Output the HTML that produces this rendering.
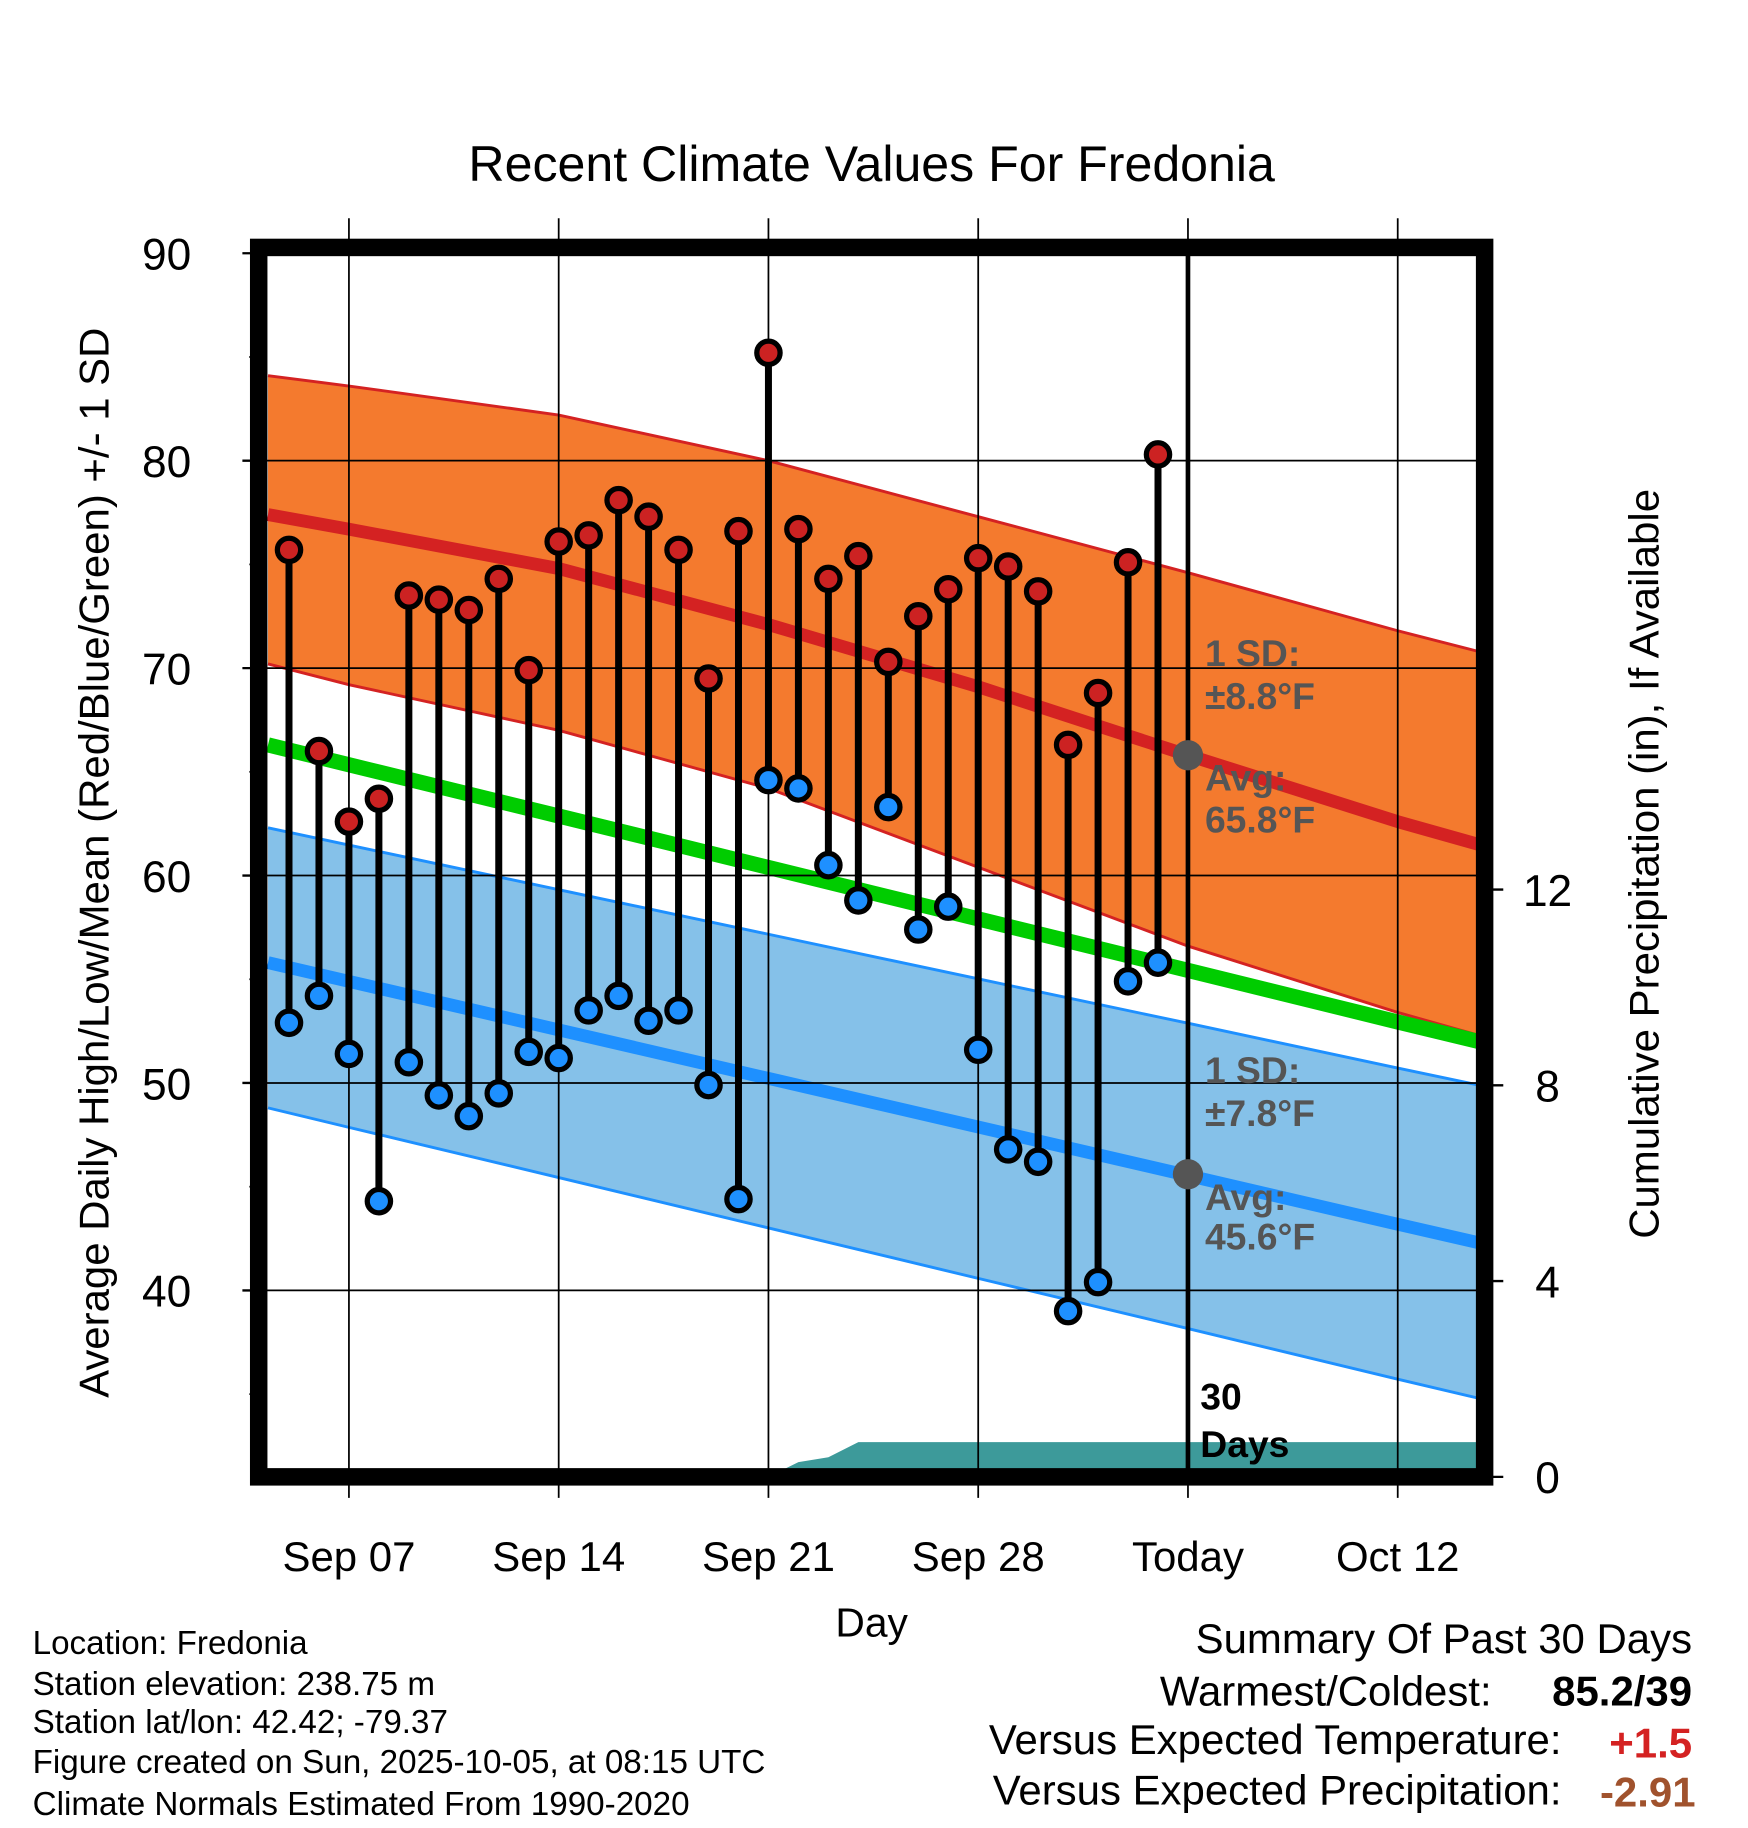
<!DOCTYPE html>
<html><head><meta charset="utf-8"><style>
html,body{margin:0;padding:0;background:#fff}
svg{display:block}
text{font-family:"Liberation Sans",Arial,sans-serif}
</style></head><body>
<svg id="chart" width="1748" height="1828" viewBox="0 0 1500 1568" xmlns="http://www.w3.org/2000/svg">
<text x="748" y="155" font-size="43" text-anchor="middle">Recent Climate Values For Fredonia</text>
<g id="plot"></g>
</svg>
<script>
// ---- data ----
const days = ["Sep 05","Sep 06","Sep 07","Sep 08","Sep 09","Sep 10","Sep 11","Sep 12","Sep 13","Sep 14","Sep 15","Sep 16","Sep 17","Sep 18","Sep 19","Sep 20","Sep 21","Sep 22","Sep 23","Sep 24","Sep 25","Sep 26","Sep 27","Sep 28","Sep 29","Sep 30","Oct 01","Oct 02","Oct 03","Oct 04"];
const highs = [75.7,66.0,62.6,63.7,73.5,73.3,72.8,74.3,69.9,76.1,76.4,78.1,77.3,75.7,69.5,76.6,85.2,76.7,74.3,75.4,70.3,72.5,73.8,75.3,74.9,73.7,66.3,68.8,75.1,80.3];
const lows = [52.9,54.2,51.4,44.3,51.0,49.4,48.4,49.5,51.5,51.2,53.5,54.2,53.0,53.5,49.9,44.4,64.6,64.2,60.5,58.8,63.3,57.4,58.5,51.6,46.8,46.2,39.0,40.4,54.9,55.8];
// normals at day offsets relative to Sep 05 (day 0)
const normDays = [-0.7,2,9,16,23,30,37,39.7];
const normHigh = [77.4,76.7,74.8,72.1,69.1,65.8,62.6,61.5];
const normHighUp = [84.1,83.6,82.2,80.0,77.3,74.6,71.8,70.8];
const normHighLo = [70.2,69.2,67.0,64.2,60.4,56.6,53.4,52.3];
const normMean = [66.3,65.34,62.87,60.39,57.91,55.43,52.94,52.0];
const normLow = [55.8,54.90,52.56,50.22,47.88,45.54,43.19,42.3];
const normLowUp = [62.3,61.47,59.32,57.17,55.02,52.88,50.72,49.9];
const normLowLo = [48.8,47.86,45.44,43.01,40.58,38.16,35.72,34.8];
const precipDays = [-0.7,16,17,18,19,39.7];
const precip = [0,0,0.3,0.4,0.71,0.71];
const yTicks = [40,50,60,70,80,90];
const y2Ticks = [0,4,8,12];
const xTickLabels = ["Sep 07","Sep 14","Sep 21","Sep 28","Today","Oct 12"];
const xTickDays = [2,9,16,23,30,37];

// ---- axes ----
const X0=248, DX=25.714;
const xs = d => X0 + d*DX;
const ys = v => 217 + (90-v)*17.8;
const ys2 = p => 1267 - p*42;
const L=222,R=1274,T=212,B=1267;
const NS="http://www.w3.org/2000/svg";
const g=document.getElementById('plot');
function el(tag,attrs,parent){const e=document.createElementNS(NS,tag);for(const k in attrs)e.setAttribute(k,attrs[k]);(parent||g).appendChild(e);return e;}
function band(up,lo){let p='';normDays.forEach((d,i)=>p+=(i?'L':'M')+xs(d)+','+ys(up[i]));for(let i=normDays.length-1;i>=0;i--)p+='L'+xs(normDays[i])+','+ys(lo[i]);return p+'Z';}
function line(arr){return normDays.map((d,i)=>(i?'L':'M')+xs(d)+','+ys(arr[i])).join('');}

const clip=el('clipPath',{id:'pc'});el('rect',{x:L,y:T,width:R-L,height:B-T},clip);
const inner=el('g',{'clip-path':'url(#pc)'});

let e;
e=el('path',{d:band(normHighUp,normHighLo),fill:'#f47a2e'},inner);


e=el('path',{d:band(normLowUp,normLowLo),fill:'#85c1e9'},inner);


[[normHighUp,'#d42222',2.5],[normHighLo,'#d42222',2.5],[normLowUp,'#1e90ff',2.5],[normLowLo,'#1e90ff',2.5]].forEach(a=>{el('path',{d:line(a[0]),fill:'none',stroke:a[1],'stroke-width':a[2]},inner);});
e=el('path',{d:line(normHigh),fill:'none',stroke:'#d42222','stroke-width':11},inner);


e=el('path',{d:line(normMean),fill:'none',stroke:'#00cc00','stroke-width':13},inner);


e=el('path',{d:line(normLow),fill:'none',stroke:'#1e90ff','stroke-width':11},inner);


// precip
let pp='M'+xs(precipDays[0])+','+ys2(0);
precipDays.forEach((d,i)=>pp+='L'+xs(d)+','+ys2(precip[i]));
pp+='L'+xs(precipDays[precipDays.length-1])+','+ys2(0)+'Z';
e=el('path',{d:pp,fill:'#3d9a9a'},inner);



// grid
yTicks.forEach(v=>{el('line',{x1:L,x2:R,y1:ys(v),y2:ys(v),stroke:'#000','stroke-width':1.5});
 e=el('text',{x:143,y:ys(v)+14,'font-size':38,'text-anchor':'middle'});e.textContent=v;
 
 
 el('line',{x1:L-14,x2:L,y1:ys(v),y2:ys(v),stroke:'#000','stroke-width':2});
 el('line',{x1:L-8,x2:L,y1:ys(v-5),y2:ys(v-5),stroke:'#000','stroke-width':1.5});
});
el('line',{x1:L-8,x2:L,y1:ys(85),y2:ys(85),stroke:'#000','stroke-width':1.5});
y2Ticks.forEach(p=>{el('line',{x1:R,x2:R+16,y1:ys2(p),y2:ys2(p),stroke:'#000','stroke-width':2});
 e=el('text',{x:1328,y:ys2(p)+14,'font-size':38,'text-anchor':'middle'});e.textContent=p;
 
 
});
xTickDays.forEach((d,i)=>{el('line',{x1:xs(d),x2:xs(d),y1:187,y2:1285,stroke:'#000','stroke-width':1.5});
 e=el('text',{x:xs(d),y:1348,'font-size':36,'text-anchor':'middle'});e.textContent=xTickLabels[i];
 
 
});
// today line
e=el('line',{x1:xs(30),x2:xs(30),y1:T,y2:B,stroke:'#000','stroke-width':4});



// stems and points
highs.forEach((h,i)=>{const x=xs(i);
 e=el('line',{x1:x,x2:x,y1:ys(h),y2:ys(lows[i]),stroke:'#000','stroke-width':6});
 
 
});
highs.forEach((h,i)=>{const x=xs(i);
 e=el('circle',{cx:x,cy:ys(h),r:10,fill:'#cc2222',stroke:'#000','stroke-width':4.5});
 
 
 e=el('circle',{cx:x,cy:ys(lows[i]),r:10,fill:'#1e90ff',stroke:'#000','stroke-width':4.5});
 
 
});
el('circle',{cx:xs(30),cy:ys(65.8),r:13,fill:'#555'});
el('circle',{cx:xs(30),cy:ys(45.6),r:13,fill:'#555'});
// frame
e=el('rect',{x:L,y:T,width:R-L,height:B-T,fill:'none',stroke:'#000','stroke-width':15});


</script>
<svg style="position:absolute;left:0;top:0" width="1748" height="1828" viewBox="0 0 1500 1568" xmlns="http://www.w3.org/2000/svg">
<g font-weight="bold" font-size="32" fill="#555">
<text x="1034" y="571">1 SD:</text><text x="1034" y="608">±8.8°F</text>
<text x="1034" y="678">Avg:</text><text x="1034" y="714">65.8°F</text></g>
<g font-weight="bold" font-size="32" fill="#555">
<text x="1034" y="929">1 SD:</text><text x="1034" y="966">±7.8°F</text>
<text x="1034" y="1038">Avg:</text><text x="1034" y="1072">45.6°F</text></g>
<g font-weight="bold" font-size="32"><text x="1030" y="1209">30</text><text x="1030" y="1250">Days</text></g>
<text transform="translate(93,740) rotate(-90)" font-size="36" text-anchor="middle">Average Daily High/Low/Mean (Red/Blue/Green) +/- 1 SD</text>
<text transform="translate(1423,741) rotate(-90)" font-size="36" text-anchor="middle">Cumulative Precipitation (in), If Available</text>
<text x="748" y="1404" font-size="35" text-anchor="middle">Day</text>
<g font-size="28.5">
<text x="28" y="1419">Location: Fredonia</text>
<text x="28" y="1454">Station elevation: 238.75 m</text>
<text x="28" y="1487">Station lat/lon: 42.42; -79.37</text>
<text x="28" y="1521">Figure created on Sun, 2025-10-05, at 08:15 UTC</text>
<text x="28" y="1557">Climate Normals Estimated From 1990-2020</text></g>
<g font-size="36" text-anchor="end">
<text x="1452" y="1418">Summary Of Past 30 Days</text>
<text x="1280" y="1463">Warmest/Coldest:</text>
<text x="1452" y="1463" font-weight="bold">85.2/39</text>
<text x="1340" y="1505">Versus Expected Temperature:</text>
<text x="1452" y="1508" font-weight="bold" fill="#d42222">+1.5</text>
<text x="1340" y="1548">Versus Expected Precipitation:</text>
<text x="1455" y="1550" font-weight="bold" fill="#a0522d">-2.91</text></g>
</svg>
</body></html>
